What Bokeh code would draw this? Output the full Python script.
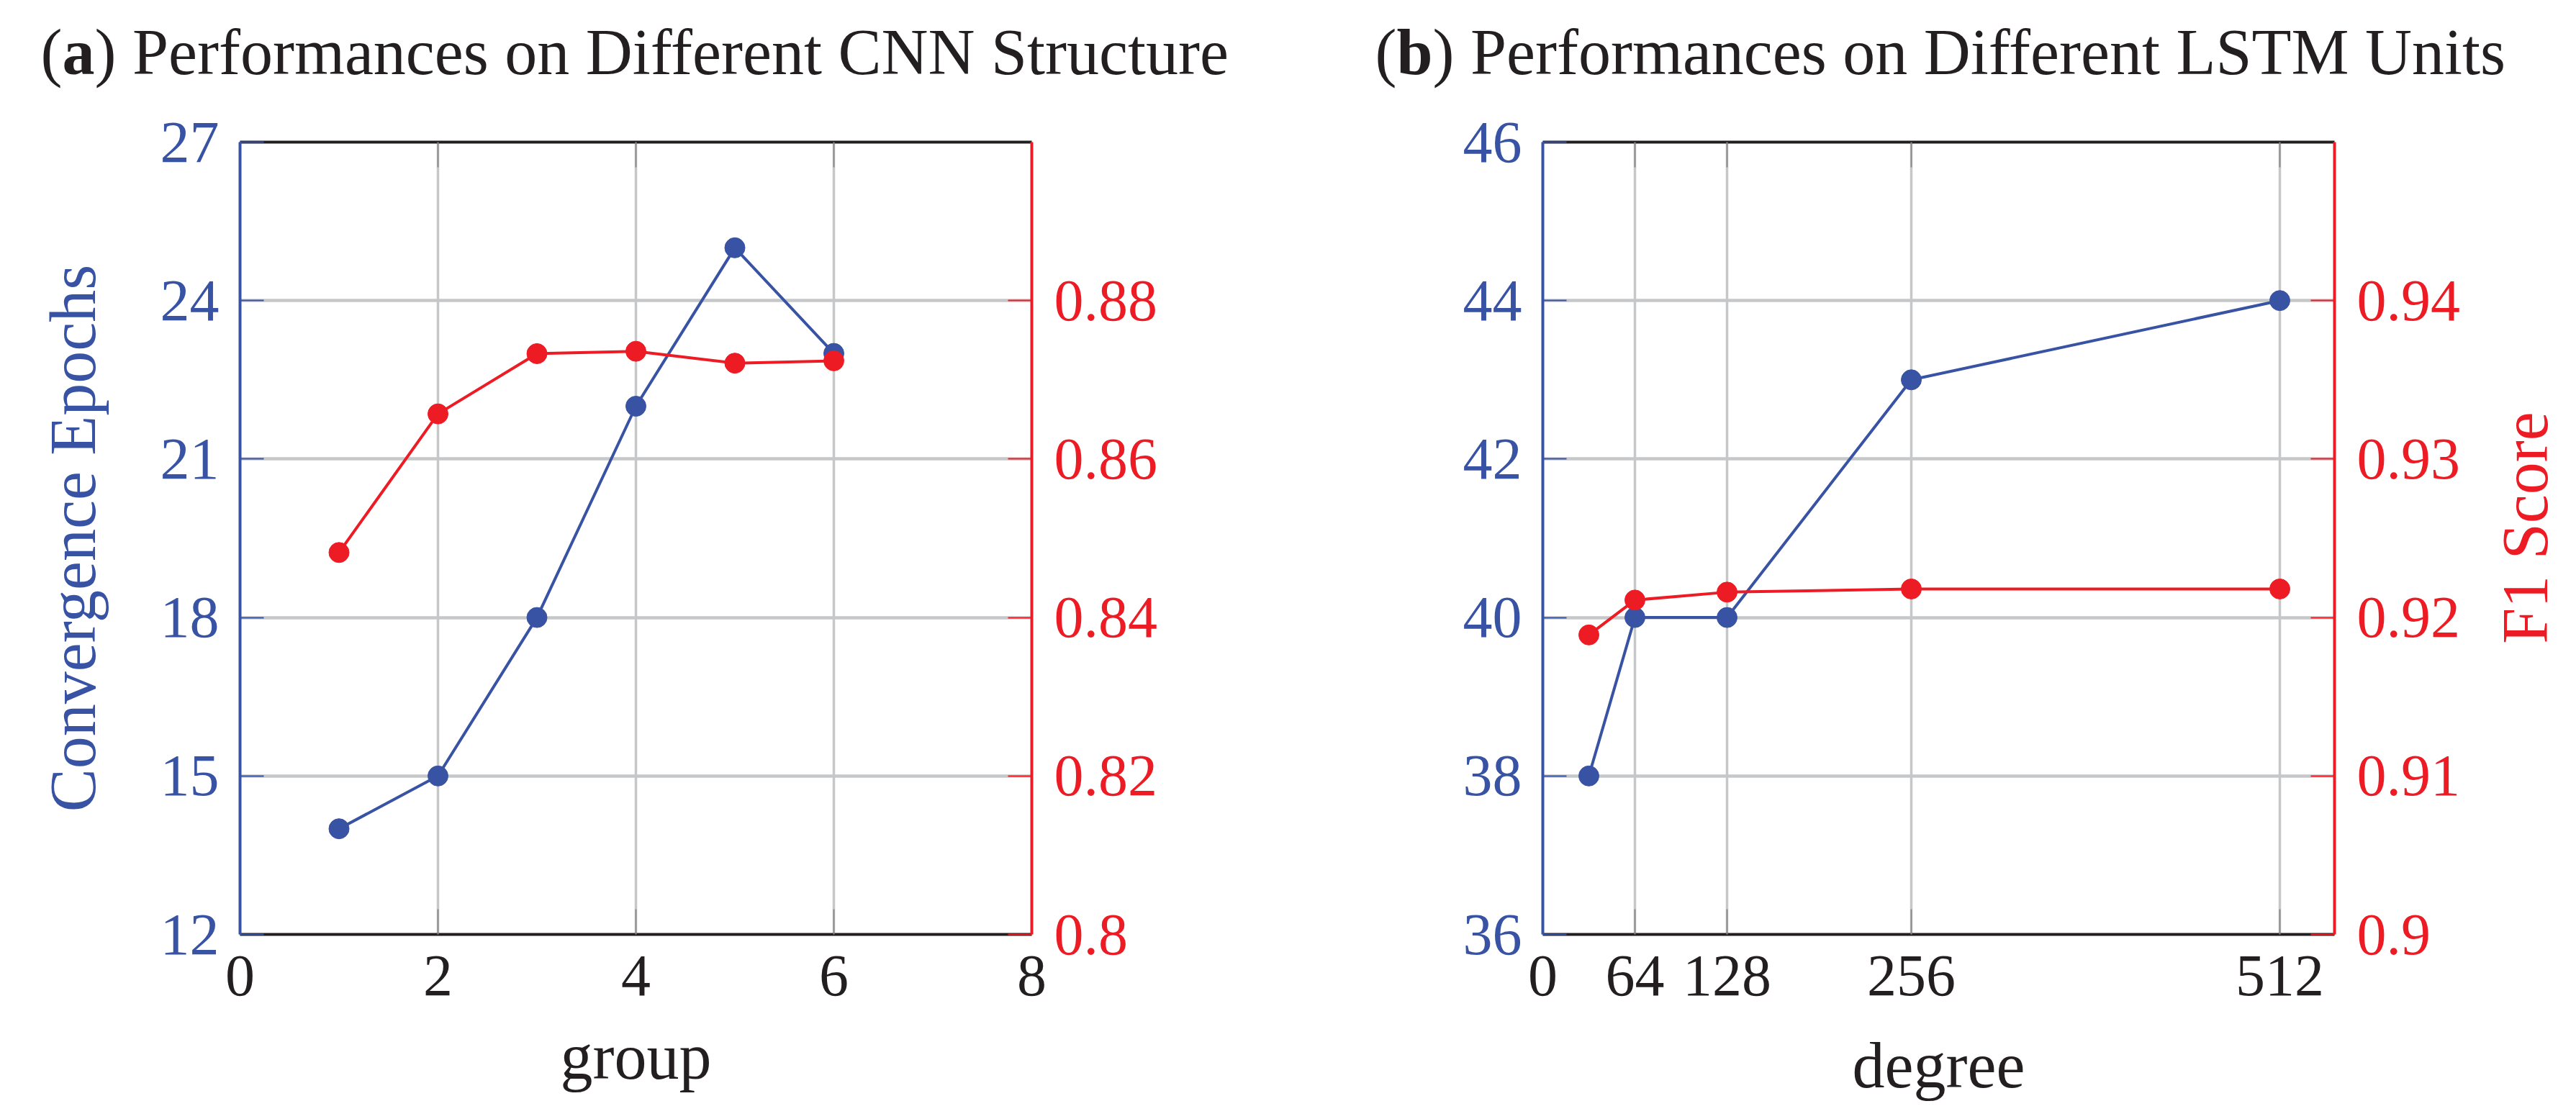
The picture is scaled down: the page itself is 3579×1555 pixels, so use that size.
import math
from bokeh.plotting import figure
from bokeh.models import Range1d, LinearAxis, FixedTicker, PrintfTickFormatter
from bokeh.layouts import row, column
from bokeh.core.properties import value
from bokeh.embed import file_html
from bokeh.resources import INLINE

# ---------------- data ----------------
cnn_group = [1, 2, 3, 4, 5, 6]
cnn_epochs = [14, 15, 18, 22, 25, 23]
cnn_f1 = [0.8482, 0.8657, 0.8733, 0.8736, 0.8721, 0.8724]

lstm_units = [32, 64, 128, 256, 512]
lstm_epochs = [38, 40, 40, 43, 44]
lstm_f1 = [0.9189, 0.9211, 0.9216, 0.9218, 0.9218]

cnn_xticks = [0, 2, 4, 6, 8]
cnn_yticks = [12, 15, 18, 21, 24, 27]
cnn_f1ticks = [0.8, 0.82, 0.84, 0.86, 0.88]

lstm_xticks = [0, 64, 128, 256, 512]
lstm_yticks = [36, 38, 40, 42, 44, 46]
lstm_f1ticks = [0.9, 0.91, 0.92, 0.93, 0.94]

title_parts_a = ["(", "a", ") Performances on Different CNN Structure"]
title_parts_b = ["(", "b", ") Performances on Different LSTM Units"]
title_styles = ["normal", "bold", "normal"]
f1_label = "F1 Score"

BLUE = "#3953a4"
RED = "#ed1c24"
BLACK = "#231f20"
GRID = "#c6c7c9"
TICKGREY = "#8c8c8c"
FONT = "Liberation Serif"
TICK_FS = "82px"
LAB_FS = "90px"

FW, FH = 1100, 1101
TITLE_H = 140
TOP_B, BOT_B = 57, 249
TOTAL_W = 3579
ROW_H = TOP_B + FH + BOT_B


def style_axis(ax, label_color, tick_in, tick_color, line_color, standoff):
    ax.axis_line_color = line_color
    ax.axis_line_width = 4
    ax.major_tick_line_color = tick_color
    ax.major_tick_line_width = 2
    ax.major_tick_in = tick_in
    ax.major_tick_out = 0
    ax.minor_tick_line_color = None
    ax.major_label_text_font = FONT
    ax.major_label_text_font_size = TICK_FS
    ax.major_label_text_color = label_color
    ax.major_label_standoff = standoff
    ax.axis_label_text_font = FONT
    ax.axis_label_text_font_size = LAB_FS
    ax.axis_label_text_font_style = "normal"


def panel(xr, yr, fr, xticks, yticks, f1ticks, xs, ep, f1, mb_left, mb_right,
          xlabel, xlabel_standoff, ylabel):
    p = figure(frame_width=FW, frame_height=FH, x_range=Range1d(*xr), y_range=Range1d(*yr),
               output_backend="svg", toolbar_location=None, title=None,
               min_border_left=mb_left, min_border_right=mb_right,
               min_border_top=TOP_B, min_border_bottom=BOT_B)
    p.extra_y_ranges = {"f1": Range1d(*fr)}
    p.outline_line_color = None
    p.background_fill_color = "white"
    p.border_fill_color = "white"

    xax = p.xaxis[0]
    xax.ticker = FixedTicker(ticks=xticks)
    style_axis(xax, BLACK, 35, TICKGREY, BLACK, 30)
    xax.axis_label = xlabel
    xax.axis_label_text_color = BLACK
    xax.axis_label_standoff = xlabel_standoff

    yax = p.yaxis[0]
    yax.ticker = FixedTicker(ticks=yticks)
    style_axis(yax, BLUE, 33, BLUE, BLUE, 29)
    if ylabel:
        yax.axis_label = ylabel
        yax.axis_label_text_color = BLUE
        yax.axis_label_standoff = 69

    rax = LinearAxis(y_range_name="f1", ticker=FixedTicker(ticks=f1ticks),
                     formatter=PrintfTickFormatter(format="%g"))
    style_axis(rax, RED, 33, RED, RED, 31)
    p.add_layout(rax, "right")

    tax = LinearAxis(ticker=FixedTicker(ticks=xticks))
    style_axis(tax, BLACK, 35, TICKGREY, BLACK, 0)
    tax.major_label_text_color = None
    tax.major_label_text_font_size = "1px"
    p.add_layout(tax, "above")

    p.xgrid.grid_line_color = GRID
    p.xgrid.grid_line_width = 3.5
    p.ygrid.grid_line_color = GRID
    p.ygrid.grid_line_width = 4.5

    p.line(xs, ep, line_color=BLUE, line_width=4)
    p.scatter(xs, ep, size=28, fill_color=BLUE, line_color=BLUE)
    p.line(xs, f1, line_color=RED, line_width=4, y_range_name="f1")
    p.scatter(xs, f1, size=28, fill_color=RED, line_color=RED, y_range_name="f1")
    return p


p1 = panel((0, 8), (12, 27), (0.8, 0.9), cnn_xticks, cnn_yticks, cnn_f1ticks,
           cnn_group, cnn_epochs, cnn_f1, 333, 367, "group", 33, "Convergence Epochs")
p2 = panel((0, 550), (36, 46), (0.9, 0.95), lstm_xticks, lstm_yticks, lstm_f1ticks,
           lstm_units, lstm_epochs, lstm_f1, 343, 200, "degree", 45, None)


def text_strip(w, h, y_inverted=True):
    f = figure(width=w, height=h, x_range=Range1d(0, w),
               y_range=Range1d(h, 0) if y_inverted else Range1d(0, h),
               output_backend="svg", toolbar_location=None, title=None,
               x_axis_location=None, y_axis_location=None,
               min_border_left=0, min_border_right=0, min_border_top=0, min_border_bottom=0)
    f.outline_line_color = None
    f.grid.visible = False
    f.background_fill_color = "white"
    f.border_fill_color = "white"
    return f


# title strip (pixel coordinates, y measured from the top)
tf = text_strip(TOTAL_W, TITLE_H)
title_x = [56, 86, 131, 1910, 1940, 1990]
tf.text(x=title_x, y=[72] * 6, text=title_parts_a + title_parts_b,
        text_font_style=title_styles + title_styles,
        text_font=value(FONT), text_font_size=LAB_FS, text_color=BLACK,
        text_baseline="middle", text_align="left")

# strip at the right holding the rotated F1 axis title (centred on the frame middle)
F1W = TOTAL_W - (333 + FW + 367) - (343 + FW + 200)
ff = text_strip(F1W, ROW_H, y_inverted=False)
f1_anchor_y = ROW_H - (749 - TITLE_H) - 76
ff.text(x=[65], y=[f1_anchor_y], text=[f1_label], angle=math.pi / 2,
        text_font=value(FONT), text_font_size=LAB_FS, text_color=RED,
        text_baseline="middle", text_align="center")

layout = column(tf, row(p1, p2, ff))
open("out.html", "w").write(file_html(layout, INLINE))
